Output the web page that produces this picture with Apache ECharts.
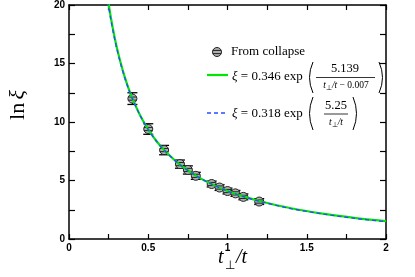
<!DOCTYPE html>
<html><head><meta charset="utf-8">
<script src="https://cdn.jsdelivr.net/npm/echarts@6/dist/echarts.min.js"></script>
<style>html,body{margin:0;padding:0;background:#fff}#c{width:415px;height:277px}</style>
</head><body><div id="c"></div>
<script>
// Data points "From collapse"
const ptX = [0.4, 0.5, 0.6, 0.7, 0.75, 0.8, 0.9, 0.95, 1.0, 1.05, 1.1, 1.2];
const ptY = [12.0, 9.4, 7.6, 6.4, 5.9, 5.4, 4.7, 4.4, 4.1, 3.9, 3.6, 3.2];
const ptErr = [0.5, 0.45, 0.4, 0.35, 0.35, 0.3, 0.25, 0.25, 0.25, 0.25, 0.25, 0.25];
// Fit curves
const fitX = [0.245,0.26,0.275,0.29,0.3,0.325,0.35,0.375,0.4,0.45,0.5,0.55,0.6,0.7,0.8,0.9,1.0,1.1,1.2,1.4,1.6,1.8,2.0];
const fitGreen = [20.53,19.25,18.12,17.10,16.48,15.10,13.92,12.90,12.02,10.54,9.36,8.40,7.61,6.35,5.42,4.69,4.11,3.64,3.25,2.63,2.17,1.81,1.52];
const fitBlue = [20.28,19.05,17.95,16.96,16.35,15.01,13.85,12.85,11.98,10.52,9.35,8.40,7.60,6.35,5.42,4.69,4.10,3.63,3.23,2.60,2.14,1.77,1.48];
const xTicks = ['0','0.5','1','1.5','2'];
const yTicks = ['0','5','10','15','20'];

const chart = echarts.init(document.getElementById('c'));
const SERIF = 'Liberation Serif';
const GREEN = '#00e800', BLUE = '#2a4cff';

function axisX(pos, labels) {
  return {
    type: 'value', position: pos, min: 0, max: 2, interval: 0.5,
    axisLine: {show: true, onZero: false, lineStyle: {color: '#000', width: 1.5}},
    axisTick: {show: true, inside: true, length: 5, lineStyle: {color: '#000', width: 1.2}},
    minorTick: {show: true, splitNumber: 2, length: 5, lineStyle: {color: '#000', width: 1.2}},
    splitLine: {show: false},
    axisLabel: {show: labels, margin: 4, color: '#000', fontWeight: 'bold', fontSize: 10,
      fontFamily: 'Liberation Sans', formatter: v => xTicks[Math.round(v / 0.5)]}
  };
}
function axisY(pos, labels) {
  return {
    type: 'value', position: pos, min: 0, max: 20, interval: 5,
    axisLine: {show: true, onZero: false, lineStyle: {color: '#000', width: 1.5}},
    axisTick: {show: true, inside: true, length: 6, lineStyle: {color: '#000', width: 1.2}},
    minorTick: {show: true, splitNumber: 2, length: 6, lineStyle: {color: '#000', width: 1.2}},
    splitLine: {show: false},
    axisLabel: {show: labels, margin: 4, color: '#000', fontWeight: 'bold', fontSize: 10,
      fontFamily: 'Liberation Sans', formatter: v => yTicks[Math.round(v / 5)]}
  };
}

function marker(cx, cy, r) {
  const d = 1.6, hw = Math.sqrt(r * r - d * d);
  return [
    {type: 'circle', shape: {cx, cy, r}, style: {fill: '#b0b0b0', stroke: '#222', lineWidth: 1}},
    {type: 'line', shape: {x1: cx - hw, y1: cy - d, x2: cx + hw, y2: cy - d}, style: {stroke: '#222', lineWidth: 1}},
    {type: 'line', shape: {x1: cx - hw, y1: cy + d, x2: cx + hw, y2: cy + d}, style: {stroke: '#222', lineWidth: 1}}
  ];
}
function paren(x, top, bot, left) {
  const mid = (top + bot) / 2, bulge = left ? -7 : 7;
  return {type: 'bezierCurve', shape: {x1: x, y1: top, x2: x, y2: bot, cpx1: x + bulge, cpy1: mid},
    style: {stroke: '#000', lineWidth: 1, fill: 'none'}};
}

const ptData = ptX.map((x, i) => [x, ptY[i], ptErr[i]]);

const iStyle = {fontFamily: SERIF, fontStyle: 'italic', fontSize: 13, fill: '#000'};
const rStyle = {fontFamily: SERIF, fontSize: 13, fill: '#000'};
const diStyle = {fontFamily: SERIF, fontStyle: 'italic', fontSize: 9.5, fill: '#000'};
const drStyle = {fontFamily: SERIF, fontSize: 9.5, fill: '#000'};
const sub = {fontFamily: SERIF, fontSize: 7, fill: '#000', verticalAlign: 'bottom', padding: [6, 0, 0, 0]};

chart.setOption({
  animation: false,
  grid: {left: 69, right: 29, top: 5, bottom: 38},
  xAxis: [axisX('bottom', true), axisX('top', false)],
  yAxis: [axisY('left', true), axisY('right', false)],
  series: [
    {
      type: 'custom', xAxisIndex: 0, yAxisIndex: 0, z: 2, data: ptData,
      renderItem(params, api) {
        const x = api.value(0), y = api.value(1), e = api.value(2);
        const c = api.coord([x, y]);
        const t = api.coord([x, y + e]), b = api.coord([x, y - e]);
        const cw = 5;
        return {type: 'group', children: [
          {type: 'line', shape: {x1: c[0], y1: t[1], x2: c[0], y2: b[1]}, style: {stroke: '#000', lineWidth: 1}},
          {type: 'line', shape: {x1: c[0] - cw, y1: t[1], x2: c[0] + cw, y2: t[1]}, style: {stroke: '#000', lineWidth: 1.3}},
          {type: 'line', shape: {x1: c[0] - cw, y1: b[1], x2: c[0] + cw, y2: b[1]}, style: {stroke: '#000', lineWidth: 1.3}}
        ].concat(marker(c[0], c[1], 4.5))};
      }
    },
    {
      type: 'line', xAxisIndex: 0, yAxisIndex: 0, z: 3, showSymbol: false, smooth: 0.3, clip: true,
      data: fitX.map((x, i) => [x, fitGreen[i]]),
      lineStyle: {color: GREEN, width: 2.2}
    },
    {
      type: 'line', xAxisIndex: 0, yAxisIndex: 0, z: 4, showSymbol: false, smooth: 0.3, clip: true,
      data: fitX.map((x, i) => [x, fitBlue[i]]),
      lineStyle: {color: BLUE, width: 1.4, type: [4, 3]}
    }
  ],
  graphic: [
    // y axis title
    {type: 'text', x: 18, y: 105, rotation: Math.PI / 2,
      style: {text: '{a|ln} {b|ξ}', textAlign: 'center', textVerticalAlign: 'middle',
        rich: {a: {fontFamily: SERIF, fontSize: 22, fill: '#000'}, b: {fontFamily: SERIF, fontStyle: 'italic', fontSize: 22, fill: '#000'}}}},
    // x axis title
    {type: 'text', x: 218, y: 268, style: {text: 't', font: 'italic 20px "Liberation Serif"', fill: '#000', textVerticalAlign: 'bottom'}},
    {type: 'text', x: 225, y: 272, style: {text: '⊥', font: '12px "Liberation Serif"', fill: '#000', textVerticalAlign: 'bottom'}},
    {type: 'text', x: 236, y: 268, style: {text: '/t', font: 'italic 20px "Liberation Serif"', fill: '#000', textVerticalAlign: 'bottom'}},
    // legend: From collapse
    {type: 'group', children: marker(217, 52, 4.5)},
    {type: 'text', x: 231, y: 52, style: {text: 'From collapse', fontFamily: SERIF, fontSize: 13, fill: '#000', textVerticalAlign: 'middle'}},
    // legend: green
    {type: 'line', shape: {x1: 207, y1: 75, x2: 228, y2: 75}, style: {stroke: GREEN, lineWidth: 2.2}},
    {type: 'text', x: 232, y: 77, style: {text: '{i|ξ}{r| = 0.346 exp}', textVerticalAlign: 'middle',
      rich: {i: iStyle, r: rStyle}}},
    paren(313, 62, 93, true),
    {type: 'text', x: 345, y: 69, style: {text: '5.139', fontFamily: SERIF, fontSize: 12.5, fill: '#000', textAlign: 'center', textVerticalAlign: 'middle'}},
    {type: 'line', shape: {x1: 316, y1: 77.5, x2: 375, y2: 77.5}, style: {stroke: '#000', lineWidth: 0.8}},
    {type: 'text', x: 346, y: 85, style: {text: '{i|t}{s|⊥}{i|/t}{r| − 0.007}', textAlign: 'center', textVerticalAlign: 'middle',
      rich: {i: diStyle, r: drStyle, s: sub}}},
    paren(379, 62, 93, false),
    // legend: blue
    {type: 'line', shape: {x1: 207, y1: 113, x2: 228, y2: 113}, style: {stroke: BLUE, lineWidth: 1.5, lineDash: [4, 3]}},
    {type: 'text', x: 232, y: 114, style: {text: '{i|ξ}{r| = 0.318 exp}', textVerticalAlign: 'middle',
      rich: {i: iStyle, r: rStyle}}},
    paren(313, 97, 130, true),
    {type: 'text', x: 336, y: 106, style: {text: '5.25', fontFamily: SERIF, fontSize: 12.5, fill: '#000', textAlign: 'center', textVerticalAlign: 'middle'}},
    {type: 'line', shape: {x1: 324, y1: 114, x2: 348, y2: 114}, style: {stroke: '#000', lineWidth: 0.8}},
    {type: 'text', x: 336, y: 122, style: {text: '{i|t}{s|⊥}{i|/t}', textAlign: 'center', textVerticalAlign: 'middle',
      rich: {i: diStyle, s: sub}}},
    paren(353, 97, 130, false)
  ]
});
</script></body></html>
